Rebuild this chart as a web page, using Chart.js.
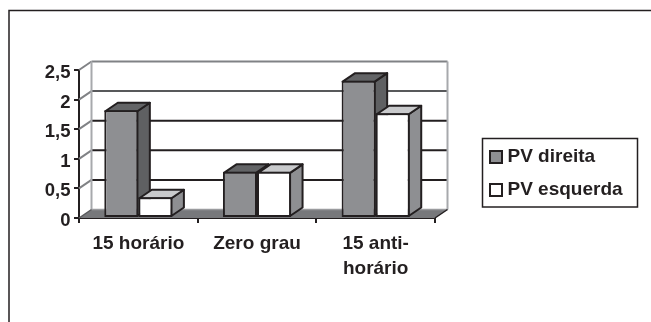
<!DOCTYPE html>
<html>
<head>
<meta charset="utf-8">
<style>
html,body{margin:0;padding:0;background:#fff}
canvas{display:block}
</style>
<script src="https://cdn.jsdelivr.net/npm/chart.js@4"></script>
</head>
<body>
<canvas id="c" width="651" height="322"></canvas>
<script>
const categories = [['15 horário'], ['Zero grau'], ['15 anti-', 'horário']];
const pvDireita = [1.82, 0.78, 2.32];
const pvEsquerda = [0.35, 0.78, 1.77];
const yTicks = [0, 0.5, 1, 1.5, 2, 2.5];

const INK = '#231f20';
const FONT = 'bold 19px "Liberation Sans", Arial, sans-serif';
const DEPTH_X = 12.5, DEPTH_Y = 8.5;

function poly(ctx, pts, fill, stroke, lw) {
  ctx.beginPath();
  pts.forEach((p, i) => i ? ctx.lineTo(p[0], p[1]) : ctx.moveTo(p[0], p[1]));
  ctx.closePath();
  if (fill) { ctx.fillStyle = fill; ctx.fill(); }
  if (stroke) { ctx.strokeStyle = stroke; ctx.lineWidth = lw; ctx.lineJoin = 'round'; ctx.stroke(); }
}
function seg(ctx, x0, y0, x1, y1, color, lw) {
  ctx.beginPath(); ctx.moveTo(x0, y0); ctx.lineTo(x1, y1);
  ctx.strokeStyle = color; ctx.lineWidth = lw; ctx.stroke();
}

// Frame lines along the top and left of the page
const framePlugin = {
  id: 'frame',
  beforeDraw(chart) {
    const ctx = chart.ctx;
    ctx.save();
    ctx.beginPath();
    ctx.moveTo(9, 322); ctx.lineTo(9, 10.5); ctx.lineTo(651, 10.5);
    ctx.strokeStyle = INK; ctx.lineWidth = 1.5; ctx.stroke();
    ctx.restore();
  }
};

// Back wall, floor and gridlines of the pseudo-3D box, then the bars' extruded faces
const wallPlugin = {
  id: 'wall',
  beforeDatasetsDraw(chart) {
    const ctx = chart.ctx, y = chart.scales.y, a = chart.chartArea;
    const l = a.left, r = a.right, b = y.getPixelForValue(0), t = y.getPixelForValue(2.5);
    ctx.save();
    poly(ctx, [[l, b], [l + DEPTH_X, b - DEPTH_Y], [r + DEPTH_X, b - DEPTH_Y], [r, b]], '#77787b');
    seg(ctx, l + DEPTH_X, b - DEPTH_Y, r + DEPTH_X, b - DEPTH_Y, '#9a9b9e', 1.5);
    yTicks.forEach(v => {
      if (v === 0) return;
      const py = y.getPixelForValue(v);
      const top = v === 2.5;
      seg(ctx, l, py, l + DEPTH_X, py - DEPTH_Y, '#808285', 2);
      seg(ctx, l + DEPTH_X, py - DEPTH_Y, r + DEPTH_X, py - DEPTH_Y,
          top ? '#808285' : (v === 2 ? '#58595b' : INK), 2);
    });
    seg(ctx, l + DEPTH_X, t - DEPTH_Y, l + DEPTH_X, b - DEPTH_Y, '#a7a9ac', 2);
    seg(ctx, r + DEPTH_X, t - DEPTH_Y, r + DEPTH_X, b - DEPTH_Y, '#a7a9ac', 2);
    seg(ctx, l, b, l + DEPTH_X, b - DEPTH_Y, '#58595b', 1.5);
    seg(ctx, r, b, r + DEPTH_X, b - DEPTH_Y, INK, 1.5);

    // Left series first so the right one overlaps it
    const faces = [
      { side: '#5f6062', top: '#636466' },
      { side: '#8e8f92', top: '#c9cacc' }
    ];
    [0, 1].forEach(d => {
      chart.getDatasetMeta(d).data.forEach(bar => {
        const x0 = bar.x - bar.width / 2 + 1, x1 = bar.x + bar.width / 2 - 1;
        const yt = bar.y + 1, yb = bar.base - 1;
        poly(ctx, [[x1, yt], [x1 + DEPTH_X, yt - DEPTH_Y], [x1 + DEPTH_X, yb - DEPTH_Y], [x1, yb]], faces[d].side, INK, 2);
        poly(ctx, [[x0, yt], [x0 + DEPTH_X, yt - DEPTH_Y], [x1 + DEPTH_X, yt - DEPTH_Y], [x1, yt]], faces[d].top, INK, 2);
      });
    });
    ctx.restore();
  }
};

// Boxed legend to the right of the plot
const legendPlugin = {
  id: 'boxedLegend',
  afterDraw(chart) {
    const ctx = chart.ctx;
    ctx.save();
    ctx.strokeStyle = INK; ctx.lineWidth = 1.5;
    ctx.strokeRect(482.5, 138.5, 155, 68.5);
    ctx.font = FONT; ctx.textBaseline = 'middle'; ctx.textAlign = 'left';
    chart.data.datasets.forEach((ds, i) => {
      const cy = 157 + i * 33;
      ctx.fillStyle = ds.backgroundColor;
      ctx.fillRect(490, cy - 6, 12, 12);
      ctx.strokeStyle = INK; ctx.lineWidth = 2;
      ctx.strokeRect(490, cy - 6, 12, 12);
      ctx.fillStyle = INK;
      ctx.fillText(ds.label, 507.5, cy);
    });
    ctx.restore();
  }
};

new Chart(document.getElementById('c'), {
  type: 'bar',
  data: {
    labels: categories,
    datasets: [
      { label: 'PV direita', data: pvDireita, backgroundColor: '#8e8f92', borderColor: INK, borderWidth: 2, borderSkipped: false },
      { label: 'PV esquerda', data: pvEsquerda, backgroundColor: '#ffffff', borderColor: INK, borderWidth: 2, borderSkipped: false }
    ]
  },
  options: {
    responsive: false,
    animation: false,
    categoryPercentage: 0.574,
    barPercentage: 1,
    layout: { padding: { left: 0, top: 70, right: 216, bottom: 0 } },
    plugins: { legend: { display: false }, tooltip: { enabled: false } },
    scales: {
      x: {
        afterFit(s) { s.height = 104; },
        grid: { offset: true, drawOnChartArea: false, drawTicks: true, tickLength: 5, color: INK, lineWidth: 2 },
        border: { color: INK, width: 2 },
        ticks: {
          autoSkip: false, maxRotation: 0, padding: 8, color: INK,
          font: { family: '"Liberation Sans", Arial, sans-serif', size: 19, weight: 'bold', lineHeight: 1.34 }
        }
      },
      y: {
        min: 0, max: 2.5,
        afterFit(s) { s.width = 79; },
        afterBuildTicks(s) { s.ticks = yTicks.map(value => ({ value })); },
        // Digits sit slightly below the tick mark
        afterUpdate(s) {
          const items = s.getLabelItems.bind(s);
          s.getLabelItems = area => items(area).map(it => ({ ...it, textOffset: it.textOffset + 1.5 }));
        },
        grid: { drawOnChartArea: false, drawTicks: true, tickLength: 5, color: INK, lineWidth: 2 },
        border: { color: INK, width: 2 },
        ticks: {
          padding: 3.5, color: INK,
          font: { family: '"Liberation Sans", Arial, sans-serif', size: 18.5, weight: 'bold' },
          callback: v => String(v).replace('.', ',')
        }
      }
    }
  },
  plugins: [framePlugin, wallPlugin, legendPlugin]
});
</script>
</body>
</html>
